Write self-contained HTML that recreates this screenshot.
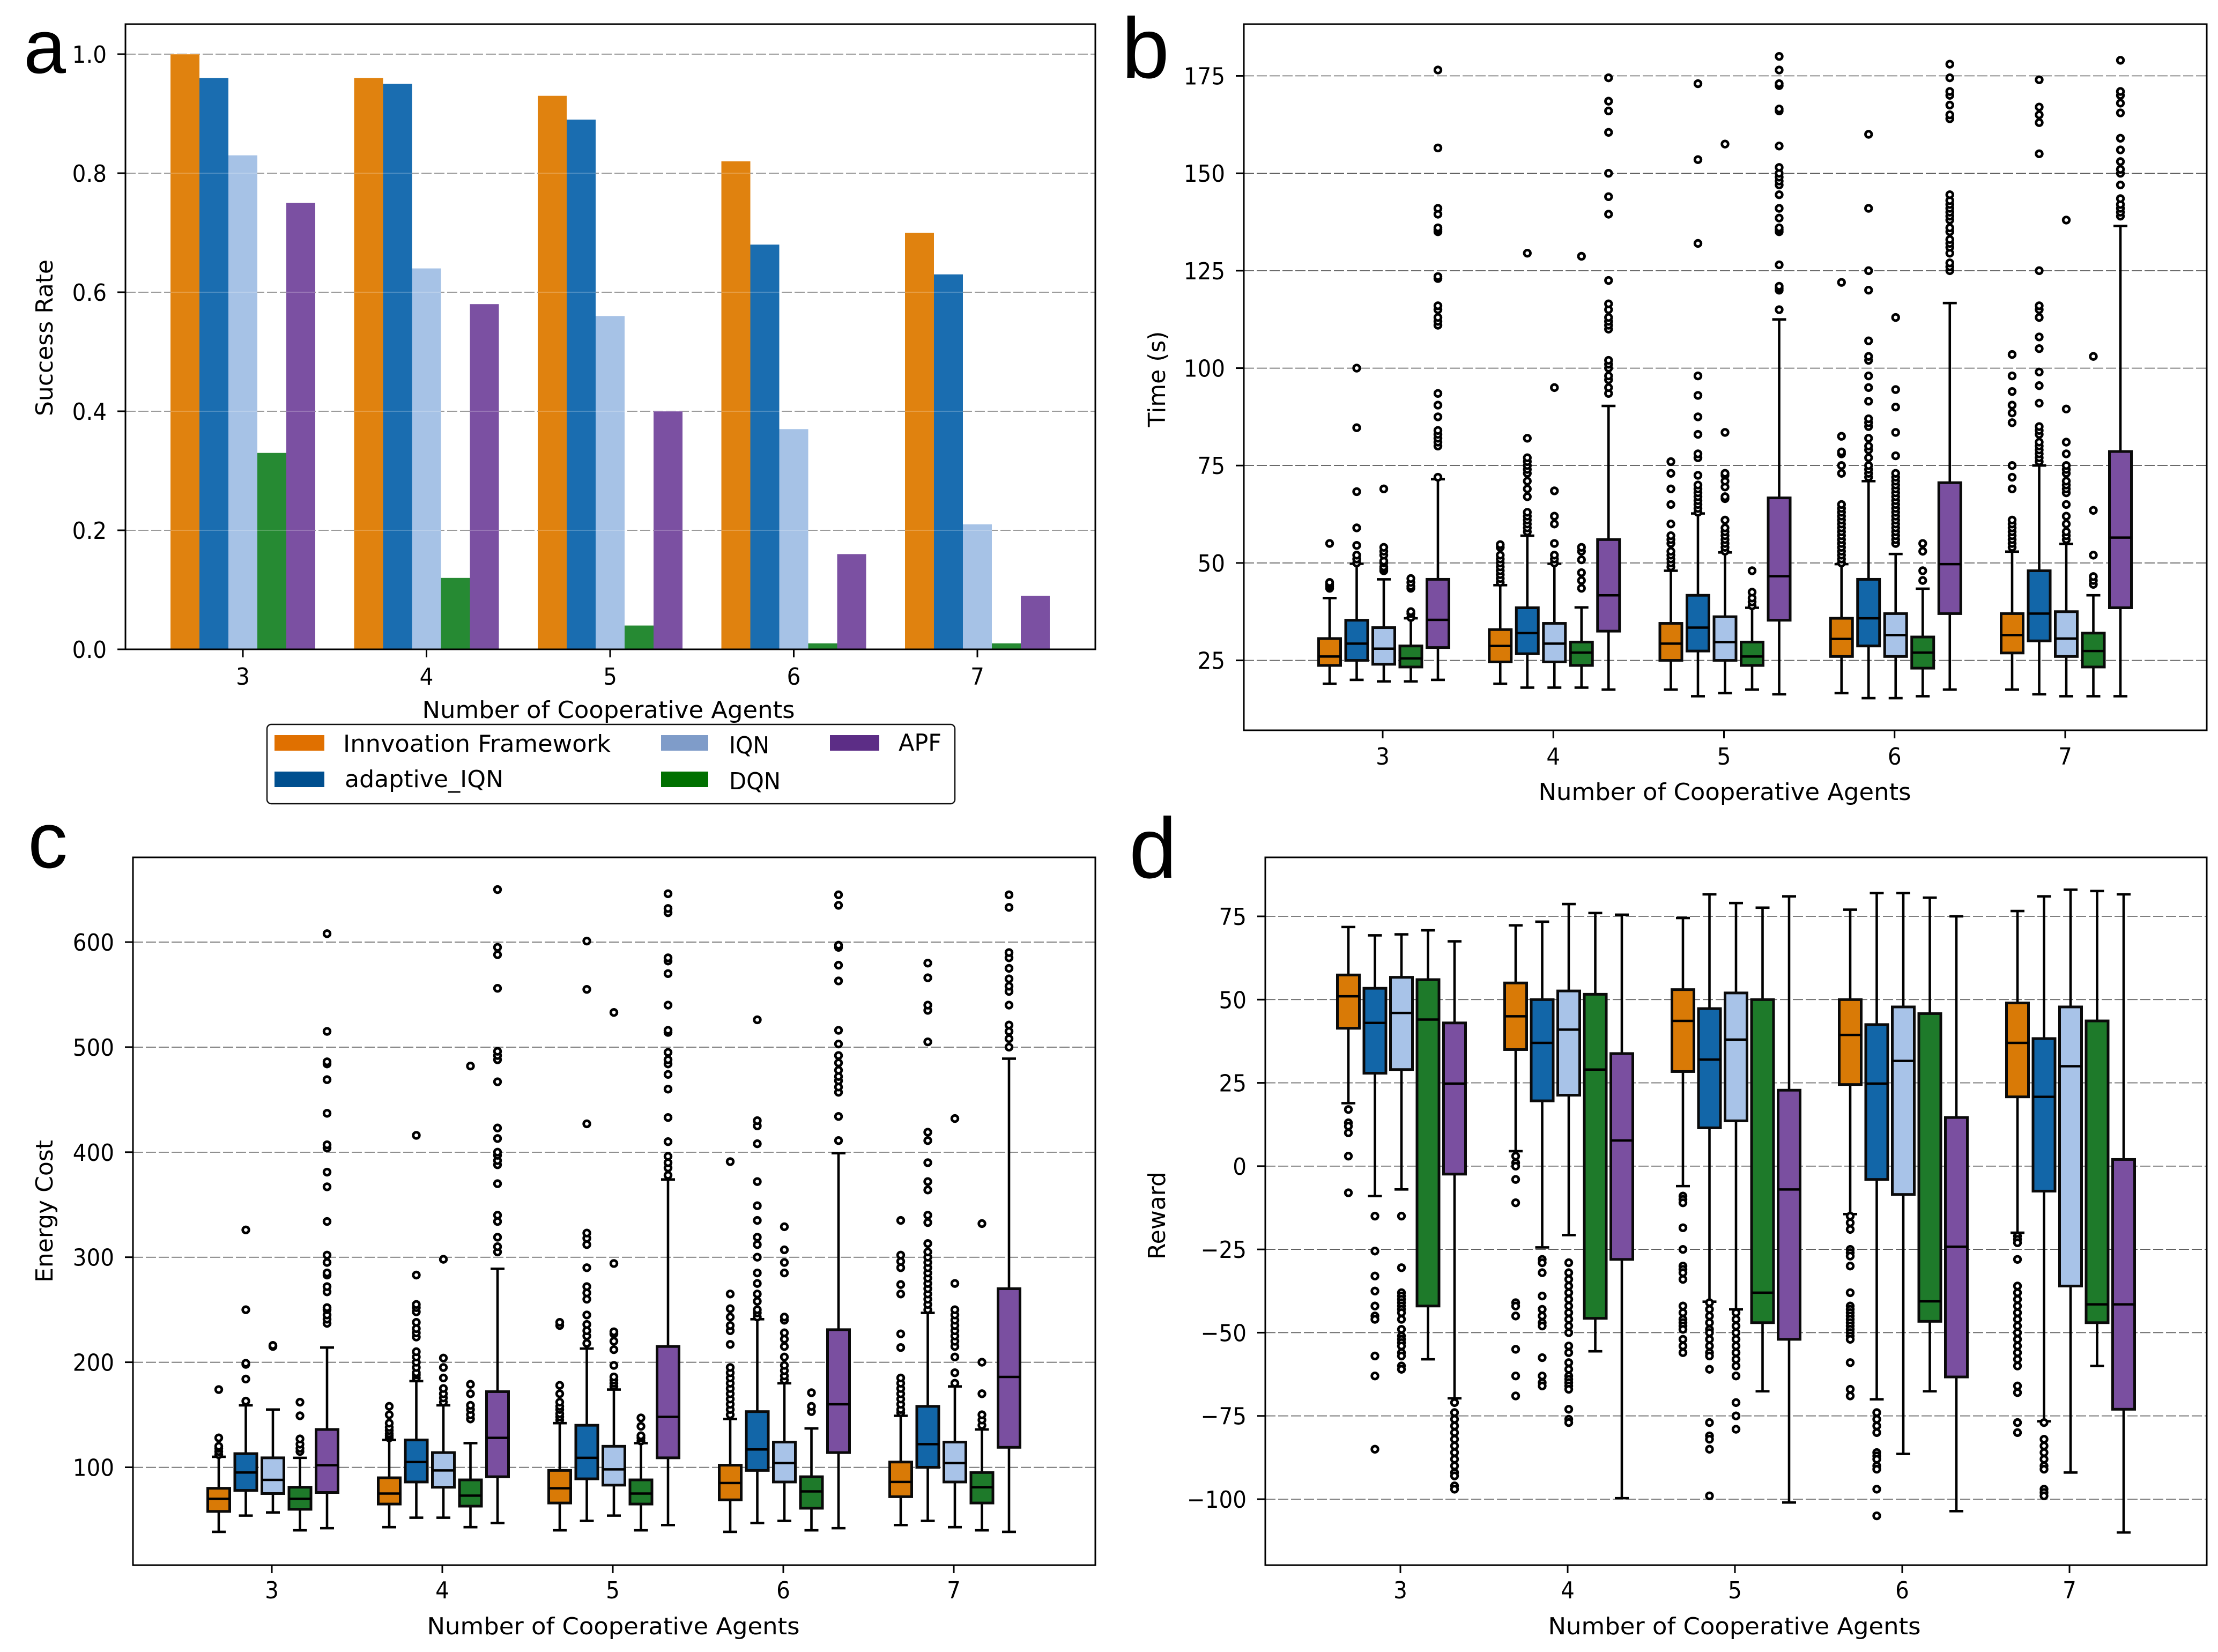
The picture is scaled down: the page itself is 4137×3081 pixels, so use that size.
<!DOCTYPE html>
<html lang="en">
<head>
<meta charset="utf-8">
<title>Cooperative agents benchmark charts</title>
<style>
html,body{margin:0;padding:0;background:#fff;overflow:hidden;}
svg{display:block;}
text{font-family:"DejaVu Sans","Liberation Sans",sans-serif;fill:#000;}
.letter{font-family:"Liberation Sans",sans-serif;}
</style>
</head>
<body>
<svg id="chart" xmlns="http://www.w3.org/2000/svg" width="4137" height="3081" viewBox="0 0 4137 3081">
<rect width="4137" height="3081" fill="#fff"></rect>
<text class="letter" x="44" y="136" font-size="142">a</text>
<text class="letter" x="2092" y="145" font-size="160">b</text>
<text class="letter" x="52" y="1618" font-size="148">c</text>
<text class="letter" x="2106" y="1637" font-size="160">d</text>
<g>
<rect x="498" y="1351" width="1283" height="148" rx="8" fill="#fff" stroke="#111" stroke-width="2.5"></rect>
<rect x="512" y="1371" width="93" height="29" fill="#e07000"></rect>
<rect x="512" y="1439" width="93" height="29" fill="#004f8f"></rect>
<rect x="1233" y="1371" width="88" height="29" fill="#7f9cc9"></rect>
<rect x="1233" y="1439" width="88" height="29" fill="#007000"></rect>
<rect x="1548" y="1371" width="92" height="29" fill="#5c2d86"></rect>
<text x="640" y="1402" font-size="44" textLength="499" lengthAdjust="spacingAndGlyphs">Innvoation Framework</text>
<text x="643" y="1468" font-size="44" textLength="296" lengthAdjust="spacingAndGlyphs">adaptive_IQN</text>
<text x="1360" y="1405" font-size="44" textLength="75" lengthAdjust="spacingAndGlyphs">IQN</text>
<text x="1360" y="1472" font-size="44" textLength="96" lengthAdjust="spacingAndGlyphs">DQN</text>
<text x="1676" y="1400" font-size="44" textLength="80" lengthAdjust="spacingAndGlyphs">APF</text>
</g>
</svg>
<script>
const categories = [3, 4, 5, 6, 7];
const seriesNames = ['innovation-framework', 'adaptive-iqn', 'iqn', 'dqn', 'apf'];

/* Panel a: success rate */
const successTicks = ['0.0', '0.2', '0.4', '0.6', '0.8', '1.0'];
const successInnovation = [1.0, 0.96, 0.93, 0.82, 0.70];
const successAdaptive = [0.96, 0.95, 0.89, 0.68, 0.63];
const successIqn = [0.83, 0.64, 0.56, 0.37, 0.21];
const successDqn = [0.33, 0.12, 0.04, 0.01, 0.01];
const successApf = [0.75, 0.58, 0.40, 0.16, 0.09];

/* Box statistics per agent count: [whisker low, q1, median, q3, whisker high] */
/* Panel b: time */
const timeTicks = [25, 50, 75, 100, 125, 150, 175];
const timeInnovation = [[19,23.7,26,30.6,41],[19,24.6,28.7,32.9,44.3],[17.5,25,29.3,34.5,48],[16.6,26,30.5,35.8,49.7],[17.5,26.9,31.5,37,52.9]];
const timeAdaptive = [[20,25,29.3,35.3,49.8],[18,26.7,32,38.5,57],[15.8,27.4,33.4,41.7,62.7],[15.3,28.7,35.8,45.8,71],[16.3,30,37,48,75]];
const timeIqn = [[19.6,24,28,33.4,45.8],[18,24.6,29.3,34.5,49.8],[16.6,25,29.7,36.2,52.7],[15.3,26,31.5,37,52.3],[15.8,26,30.6,37.5,54.9]];
const timeDqn = [[19.6,23.3,25.5,28.7,35.8],[18,23.7,27,29.7,38.6],[17.5,23.7,26,29.7,38.5],[15.8,23,27,31,43.4],[15.8,23.3,27.4,32,41.7]];
const timeApf = [[20,28.3,35.4,45.8,71.5],[17.5,32.5,41.7,56,90.3],[16.3,35.3,46.6,66.7,112.5],[17.5,37,49.7,70.6,116.7],[15.8,38.5,56.5,78.6,136.5]];
const timeInnovationOut = [[43.5,44,44.5,45,55],[45,46,47,48,49,50,51,52,54,54.7],[49,50,51,52,53,55,56,57,60,65,69,73,76],[50,51,52,53,54,55,56,57,58,59,60,61,62,63,64,65,73,75,78,78.5,82.5,122],[54,55,56,57,58,59,60,61,69,72,75,86,88.5,90.5,94,98,103.5]];
const timeAdaptiveOut = [[50,51,52,54.5,59,68.3,84.7,100],[58,59,60,61,62,63,67,69,71,73,74,75,76,77,82,129.5],[63,64,65,66,67,68,69,70,72.5,77,78,83,87.5,93,98,132,153.5,173],[72,73,74,75,77,79,80,82,85,86,87,91.5,95,98,102,103,107,120,125,141,160],[76,77,78,79,80,81,83,84,85,91,95.5,99,105,108,113,115,116,125,155,163,165,167,174]];
const timeIqnOut = [[48,48.5,49,50,50.5,52,53,54,69],[50,51,52,55,60,62,68.5,95],[53,54,55,56,57,58,59,61,66.5,67,69.5,71,72.5,73,83.5,157.5],[55,56,57,58,59,60,61,62,63,64,65,66,67,68,69,70,71,72,73,77.5,83.5,90,94.5,113],[56,57,58,60,62,65,68,69,70,71,73,74,75,78,81,89.5,138]];
const timeDqnOut = [[36,37,37.5,43.5,44,45,46],[43.5,45.5,47.5,50.8,53,54,128.7],[39,40,41,42.5,48],[45.5,48,53,55],[44.5,45.5,46.5,52,63.5,103]];
const timeApfOut = [[72,80,81,82,83,84,87.5,90.5,93.5,111,112,113,115,116,123,123.5,135,135.5,136,139.5,141,156.5,176.5],[93.5,95,97,98,100,101,102,110,111,112,113,115,116.5,122.5,139.5,144,150,160.5,166,168.5,174.5],[115,120,120.5,121,126.5,135,135.5,136,138.5,141,144.5,147,148,149,150,151.5,157,166,166.5,172.5,173,176.5,180],[125,126,127,129.5,131,132,133,135,136,138,139,140,141,142,143,144.5,164,165,167.5,170,171,174.5,178],[139,140,141,142,143.5,147,150,151,153,156,159,165.5,168,170,171,179]];

/* Panel c: energy cost */
const energyTicks = [100, 200, 300, 400, 500, 600];
const energyInnovation = [[38.5,58,70,80,110],[43,65,75,90,126],[40,66,80,97,142],[38.5,69,85,102,146],[45,72,86,105,149]];
const energyAdaptive = [[54,78,95,113,159],[52,86,105,126,182],[49,89,109,140,213],[47,97,117,153,241],[49,100,122,158,247]];
const energyIqn = [[57,75,88,109,155],[52,81,97,114,159],[54,83,98,120,174],[49,86,104,124,180],[43,86,104,124,177]];
const energyDqn = [[40,60,70,81,109],[43,63,73,88,123],[40,65,75,88,123],[40,61,77,91,137],[40,66,81,95,136]];
const energyApf = [[42,76,102,136,214],[47,91,128,172,289],[45,109,148,215,374],[42,114,160,231,399],[38.5,119,186,270,489]];
const energyInnovationOut = [[112,115,118,120,128,174],[128,130,132,135,138,142,150,158],[145,148,151,155,158,162,170,178,235,238],[150,155,160,165,170,175,180,185,190,195,217,230,235,243,251,265,391],[152,155,160,165,170,175,180,185,214,227,265,274,290,296,302,335]];
const energyAdaptiveOut = [[163,184,198,199,250,326],[185,188,190,195,200,205,210,224,228,232,238,248,252,255,283,416],[218,225,230,236,245,260,266,272,290,312,318,323,427,555,601],[243,247,250,258,265,275,285,300,312,319,335,349,372,408,425,430,526],[250,255,260,265,270,275,280,285,290,295,300,305,313,333,340,364,372,390,411,419,505,535,540,566,580]];
const energyIqnOut = [[215,216],[162,166,170,175,185,195,204,298],[177,180,183,186,197,212,220,227,229,294,533],[183,187,192,197,205,215,222,228,240,243,285,295,307,329],[180,190,205,215,220,225,230,235,240,245,250,275,432]];
const energyDqnOut = [[115,118,122,127,149,162],[146,150,155,159,170,179,482],[125,128,130,139,147],[153,158,171],[140,145,150,170,200,332]];
const energyApfOut = [[237,241,245,250,252,267,272,283,285,295,302,334,367,381,404,407,437,469,484,486,515,608],[305,310,319,334,340,370,388,392,397,400,413,423,467,488,492,496,556,588,595,650],[378,385,390,396,410,433,460,474,484,488,495,514,516,540,570,582,585,628,632,646],[411,434,457,462,468,472,478,485,492,503,516,563,578,595,597,635,645],[500,508,515,521,540,553,558,565,575,585,590,633,645]];

/* Panel d: reward */
const rewardTicks = [-100, -75, -50, -25, 0, 25, 50, 75];
const rewardInnovation = [[18.9,41.4,51,57.4,71.8],[4.5,35,45,55,72.3],[-6,28.4,43.6,53,74.5],[-14.4,24.5,39.4,50,77],[-20,20.8,37,49,76.6]];
const rewardAdaptive = [[-9,27.9,43,53.4,69.3],[-24.4,19.6,37,50,73.4],[-40.7,11.5,32,47.3,81.6],[-70,-4,24.8,42.5,82],[-76.6,-7.5,20.8,38.3,81]];
const rewardIqn = [[-7,29,46,56.7,69.6],[-20.7,21.3,41,52.6,78.7],[-43,13.6,38,52,79],[-86.4,-8.5,31.6,47.8,82],[-92,-36,30,47.8,83]];
const rewardDqn = [[-58,-42,44,56,70.8],[-55.6,-45.7,29,51.6,76],[-67.6,-47,-38,50,77.6],[-67.6,-46.6,-40.6,45.8,80.6],[-60,-47,-41.5,43.6,82.6]];
const rewardApf = [[-69.7,-2.4,24.8,43,67.5],[-99.7,-28,7.7,33.8,75.5],[-101,-52,-7,22.8,81],[-103.6,-63.3,-24.2,14.6,75],[-110,-73,-41.5,2,81.6]];
const rewardInnovationOut = [[17,13,12,10,3,-8],[3,1,0,-4,-11,-41,-42,-45,-55,-63,-69],[-9,-10,-11,-18.5,-25,-30,-31,-32,-34,-42,-44,-46,-47,-48,-49,-52,-54,-56],[-15,-17,-19,-25,-26,-27,-30,-38,-42,-43,-44,-45,-46,-47,-48,-49,-50,-51,-52,-59,-67,-69],[-21,-22,-23,-28,-36,-38,-40,-42,-44,-46,-48,-50,-52,-54,-56,-58,-60,-66,-68,-77,-80]];
const rewardAdaptiveOut = [[-15,-25.5,-33,-37.5,-42,-45,-46,-57,-63,-85],[-28,-29,-32,-39,-43,-45,-47,-48,-57.5,-63,-65,-66],[-41,-43,-45,-47,-49,-50,-52,-54,-56,-57,-61,-77,-81,-82,-85,-99],[-74,-76,-78,-80,-86,-87,-88,-90,-91,-97,-105],[-77,-82,-84,-86,-88,-90,-91,-97,-98,-99]];
const rewardIqnOut = [[-15,-30.5,-38,-39,-40,-41,-42,-43,-44,-46,-49,-51,-52,-53,-54,-56,-57,-60,-61],[-29,-32,-34,-36,-38,-40,-42,-44,-46,-48,-50,-54,-56,-59,-61,-63,-64,-65,-66,-67,-73,-76,-77],[-44,-46,-48,-50,-52,-54,-56,-58,-60,-63,-71,-75,-79],[],[]];
const rewardDqnOut = [[],[],[],[],[]];
const rewardApfOut = [[-71,-74,-76,-78,-80,-82,-84,-86,-88,-90,-92,-93,-96,-97],[],[],[],[]];

const barColors = ['#e0820f', '#1a6db0', '#a6c2e6', '#268a33', '#7b50a2'];
const boxColors = ['#d97a06', '#1266a8', '#a8c3e8', '#1e7a2a', '#7a4fa0'];

const svg = document.getElementById('chart');
const NS = 'http://www.w3.org/2000/svg';

function make(tag, attrs, name, parent) {
  const el = document.createElementNS(NS, tag);
  for (const k in attrs) el.setAttribute(k, attrs[k]);
  
  
  parent.appendChild(el);
  return el;
}
function linear(v0, p0, v1, p1) {
  return function (v) { return p0 + (v - v0) * (p1 - p0) / (v1 - v0); };
}
function label(str, x, y, anchor, size, sx, rot, name, parent) {
  const tr = 'translate(' + x + ' ' + y + ')' + (rot ? ' rotate(' + rot + ')' : '') + ' scale(' + sx + ' 1)';
  const t = make('text', { transform: tr, 'text-anchor': anchor, 'font-size': size }, name, parent);
  t.textContent = str;
  return t;
}
function axes(p) {
  const g = make('g', {}, p.name + '-axes', svg);
  p.yTicks.forEach(function (tick) {
    const v = Number(tick);
    const y = p.y(v);
    make('line', { x1: p.left, x2: p.right, y1: y, y2: y, stroke: '#555', 'stroke-width': 1.6, 'stroke-dasharray': '19 5' }, 'gridline', g);
    make('line', { x1: p.left - 15, x2: p.left, y1: y, y2: y, stroke: '#000', 'stroke-width': 3 }, 'y-tick', g);
    const s = typeof tick === 'string' ? tick : String(tick).replace('-', '\u2212');
    label(s, p.left - 35, y + 16, 'end', 44, 0.92, 0, 'y-tick-label', g);
  });
  categories.forEach(function (c) {
    const x = p.x(c);
    make('line', { x1: x, x2: x, y1: p.bottom, y2: p.bottom + 15, stroke: '#000', 'stroke-width': 3 }, 'x-tick', g);
    label(String(c), x, p.xTickBase, 'middle', 44, 0.92, 0, 'x-tick-label', g);
  });
  label('Number of Cooperative Agents', p.xLabelX, p.xLabelBase, 'middle', 44, 1.02, 0, 'x-axis-title', g);
  label(p.yTitle, p.yLabelX, p.yLabelY, 'middle', 44, 1, -90, 'y-axis-title', g);
}
function frame(p) {
  make('rect', { x: p.left, y: p.top, width: p.right - p.left, height: p.bottom - p.top, fill: 'none', stroke: '#000', 'stroke-width': 3 }, p.name + '-frame', svg);
}

/* Bar panel */
const panelA = { name: 'success-panel', left: 234, right: 2043, top: 45, bottom: 1211,
  x: linear(3, 453, 7, 1823), y: linear(0, 1211, 1, 101), yTicks: successTicks,
  xTickBase: 1277, xLabelX: 1135, xLabelBase: 1339, yTitle: 'Success Rate', yLabelX: 98, yLabelY: 630 };
const successSeries = [successInnovation, successAdaptive, successIqn, successDqn, successApf];
axes(panelA);
const barWidth = 54;
successSeries.forEach(function (vals, s) {
  const g = make('g', {}, 'bars-' + seriesNames[s], svg);
  vals.forEach(function (v, i) {
    const x = panelA.x(categories[i]) + (s - 2.5) * barWidth;
    const y = panelA.y(v);
    make('rect', { x: x, y: y, width: barWidth, height: panelA.y(0) - y, fill: barColors[s] }, 'bar-' + seriesNames[s] + '-' + categories[i], g);
  });
});
panelA.yTicks.forEach(function (tick) {
  const y = panelA.y(Number(tick));
  make('line', { x1: panelA.left, x2: panelA.right, y1: y, y2: y, stroke: '#fff', 'stroke-opacity': 0.22, 'stroke-width': 2 }, 'gridline-overlay', svg);
});
frame(panelA);

/* Box panels */
function boxPanel(p) {
  axes(p);
  p.stats.forEach(function (rows, s) {
    const g = make('g', {}, p.name + '-series-' + seriesNames[s], svg);
    rows.forEach(function (r, i) {
      const cx = p.x(categories[i]) + (s - 2) * p.step + 2;
      const ht = p.boxW / 2;
      const capHalf = 13;
      const lo = p.y(r[0]), q1 = p.y(r[1]), med = p.y(r[2]), q3 = p.y(r[3]), hi = p.y(r[4]);
      make('line', { x1: cx, x2: cx, y1: hi, y2: lo, stroke: '#000', 'stroke-width': 4.6 }, 'whisker', g);
      make('line', { x1: cx - capHalf, x2: cx + capHalf, y1: hi, y2: hi, stroke: '#000', 'stroke-width': 4.6 }, 'whisker-cap-high', g);
      make('line', { x1: cx - capHalf, x2: cx + capHalf, y1: lo, y2: lo, stroke: '#000', 'stroke-width': 4.6 }, 'whisker-cap-low', g);
      make('rect', { x: cx - ht, y: q3, width: p.boxW, height: q1 - q3, fill: boxColors[s], stroke: '#0a0a0a', 'stroke-width': 5 }, 'box', g);
      make('line', { x1: cx - ht, x2: cx + ht, y1: med, y2: med, stroke: '#000', 'stroke-width': 4.5 }, 'median-line', g);
      p.out[s][i].forEach(function (v) {
        make('circle', { cx: cx, cy: p.y(v), r: 5.8, fill: '#fff', stroke: '#000', 'stroke-width': 4.8 }, 'outlier-point', g);
      });
    });
  });
  frame(p);
}
boxPanel({ name: 'time-panel', left: 2320, right: 4116, top: 45, bottom: 1362,
  x: linear(3, 2579, 7, 3852), y: linear(25, 1231.6, 175, 141.5), yTicks: timeTicks, step: 50.5, boxW: 41,
  stats: [timeInnovation, timeAdaptive, timeIqn, timeDqn, timeApf],
  out: [timeInnovationOut, timeAdaptiveOut, timeIqnOut, timeDqnOut, timeApfOut],
  xTickBase: 1426, xLabelX: 3217, xLabelBase: 1492, yTitle: 'Time (s)', yLabelX: 2173, yLabelY: 707 });
boxPanel({ name: 'energy-panel', left: 248, right: 2043, top: 1599, bottom: 2919,
  x: linear(3, 507, 7, 1779), y: linear(100, 2736.5, 600, 1757), yTicks: energyTicks, step: 50.5, boxW: 41,
  stats: [energyInnovation, energyAdaptive, energyIqn, energyDqn, energyApf],
  out: [energyInnovationOut, energyAdaptiveOut, energyIqnOut, energyDqnOut, energyApfOut],
  xTickBase: 2981, xLabelX: 1144, xLabelBase: 3048, yTitle: 'Energy Cost', yLabelX: 98, yLabelY: 2259 });
boxPanel({ name: 'reward-panel', left: 2360, right: 4116, top: 1599, bottom: 2919,
  x: linear(3, 2612, 7, 3860), y: linear(75, 1709, -100, 2796), yTicks: rewardTicks, step: 49.5, boxW: 41,
  stats: [rewardInnovation, rewardAdaptive, rewardIqn, rewardDqn, rewardApf],
  out: [rewardInnovationOut, rewardAdaptiveOut, rewardIqnOut, rewardDqnOut, rewardApfOut],
  xTickBase: 2981, xLabelX: 3235, xLabelBase: 3048, yTitle: 'Reward', yLabelX: 2173, yLabelY: 2267 });
</script>
</body>
</html>
